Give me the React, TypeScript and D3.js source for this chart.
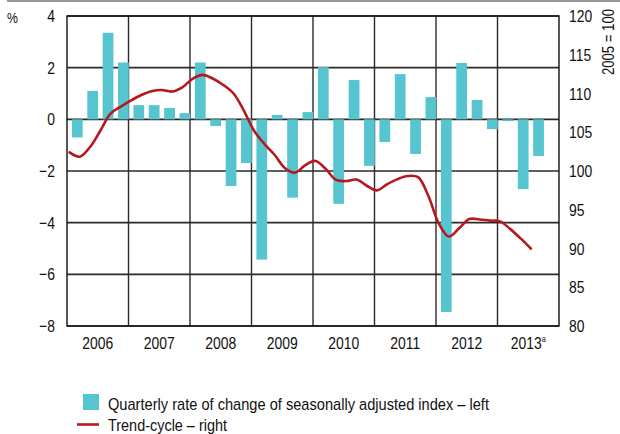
import React from 'react';
import * as d3 from 'd3';

const years = ['2006', '2007', '2008', '2009', '2010', '2011', '2012', '2013'];
const yearLabels = ['2006', '2007', '2008', '2009', '2010', '2011', '2012', '2013'];
const leftTicks = [4, 2, 0, -2, -4, -6, -8];
const rightTicks = [120, 115, 110, 105, 100, 95, 90, 85, 80];

// Quarterly rate of change of seasonally adjusted index (%), 2006 Q1 – 2013 Q3
const quarters = [
  '2006-Q1', '2006-Q2', '2006-Q3', '2006-Q4',
  '2007-Q1', '2007-Q2', '2007-Q3', '2007-Q4',
  '2008-Q1', '2008-Q2', '2008-Q3', '2008-Q4',
  '2009-Q1', '2009-Q2', '2009-Q3', '2009-Q4',
  '2010-Q1', '2010-Q2', '2010-Q3', '2010-Q4',
  '2011-Q1', '2011-Q2', '2011-Q3', '2011-Q4',
  '2012-Q1', '2012-Q2', '2012-Q3', '2012-Q4',
  '2013-Q1', '2013-Q2', '2013-Q3',
];
const quarterlyChange = [
  -0.7, 1.1, 3.35, 2.2,
  0.55, 0.55, 0.44, 0.24,
  2.2, -0.26, -2.58, -1.69,
  -5.43, 0.17, -3.03, 0.28,
  2.02, -3.27, 1.52, -1.8,
  -0.88, 1.75, -1.34, 0.86,
  -7.46, 2.18, 0.75, -0.38,
  -0.07, -2.7, -1.42,
];

// Trend-cycle (2005 = 100), every second month 2006-01 … 2013-07
const trendMonths = [
  '2006-01', '2006-03', '2006-05', '2006-07', '2006-09', '2006-11',
  '2007-01', '2007-03', '2007-05', '2007-07', '2007-09', '2007-11',
  '2008-01', '2008-03', '2008-05', '2008-07', '2008-09', '2008-11',
  '2009-01', '2009-03', '2009-05', '2009-07', '2009-09', '2009-11',
  '2010-01', '2010-03', '2010-05', '2010-07', '2010-09', '2010-11',
  '2011-01', '2011-03', '2011-05', '2011-07', '2011-09', '2011-11',
  '2012-01', '2012-03', '2012-05', '2012-07', '2012-09', '2012-11',
  '2013-01', '2013-03', '2013-05', '2013-07',
];
const trendCycle = [
  102.4, 101.85, 103.1, 105.2, 107.4, 108.3,
  109.1, 109.8, 110.3, 110.45, 110.25, 110.8,
  111.9, 112.4, 111.9, 111.1, 110.0, 107.8,
  105.2, 103.5, 102.1, 100.4, 99.8, 100.75,
  101.3, 100.25, 98.85, 98.7, 98.9, 98.1,
  97.5, 98.3, 98.95, 99.35, 99.2, 96.8,
  93.3, 91.55, 92.6, 93.8, 93.75, 93.6,
  93.5, 92.5, 91.3, 90.0,
];

const legendItems = [
  'Quarterly rate of change of seasonally adjusted index \u2013 left',
  'Trend-cycle \u2013 right',
];

const FONT = "'Liberation Sans', Arial, sans-serif";
const BAR = '#57c5cf';
const LINE = '#b5191f';
const GRID = '#2a2a2a';
const SX = 0.82;

function NText(props: { x: number; y: number; anchor?: string; size?: number; dy?: string; children: React.ReactNode; sx?: number }) {
  const { x, y, anchor = 'start', size = 17, dy, children, sx = SX } = props;
  return (
    <text transform={`translate(${x},${y}) scale(${sx},1)`} textAnchor={anchor} fontSize={size} dy={dy} fill="#111">
      {children}
    </text>
  );
}

export default function App() {
  const W = 620, H = 434;
  const left = 67, right = 559, top = 16, bottom = 326;

  const x = d3.scaleLinear().domain([2006, 2014]).range([left, right]);
  const yL = d3.scaleLinear().domain([-8, 4]).range([bottom, top]);
  const yR = d3.scaleLinear().domain([80, 120]).range([bottom, top]);
  const qw = x(2006.25) - x(2006);

  const qPos = (q: string) => {
    const [yy, qq] = q.split('-Q');
    return +yy + (+qq - 1) / 4;
  };
  const mPos = (m: string) => {
    const [yy, mm] = m.split('-');
    return +yy + (+mm - 1 + 0.5) / 12;
  };

  const line = d3.line<number>()
    .x((_, i) => x(mPos(trendMonths[i])))
    .y((d) => yR(d))
    .curve(d3.curveCatmullRom.alpha(0.5));

  const yearBounds = d3.range(2007, 2014);

  return (
    <svg width={W} height={H} style={{ position: 'absolute', left: 0, top: 0, background: '#fff' }}
      fontFamily={FONT}>
      <line x1={7} x2={620} y1={1} y2={1} stroke="#777" strokeWidth={1.5} />
      {leftTicks.map((t) => (
        <line key={'h' + t} x1={left} x2={right} y1={yL(t)} y2={yL(t)} stroke={GRID} strokeWidth={1.6} />
      ))}
      {yearBounds.map((yv) => (
        <line key={'v' + yv} x1={x(yv)} x2={x(yv)} y1={top} y2={bottom} stroke={GRID} strokeWidth={1.4} />
      ))}
      {quarterlyChange.map((v, i) => {
        const x0 = x(qPos(quarters[i])) + 0.32 * qw;
        const y0 = Math.min(yL(v), yL(0));
        const h = Math.abs(yL(v) - yL(0));
        return <rect key={'b' + i} x={x0} y={y0} width={0.7 * qw} height={h} fill={BAR} />;
      })}
      <rect x={left} y={top} width={right - left} height={bottom - top} fill="none" stroke="#111" strokeWidth={1.4} />
      <path d={line(trendCycle) || ''} fill="none" stroke={LINE} strokeWidth={2.6} strokeLinejoin="round" strokeLinecap="round" />
      {leftTicks.map((t) => (
        <NText key={'l' + t} x={55} y={yL(t)} dy="0.36em" anchor="end">
          {t < 0 ? '\u2212' + Math.abs(t) : String(t)}
        </NText>
      ))}
      {rightTicks.map((t) => (
        <NText key={'r' + t} x={569} y={yR(t)} dy="0.36em">
          {String(t)}
        </NText>
      ))}
      <NText x={7} y={23} size={15}>%</NText>
      <text transform="translate(614,9) rotate(-90) scale(0.82,1)" textAnchor="end" fontSize={16} fill="#111">2005 = 100</text>
      {years.map((yv, i) => (
        <NText key={'x' + yv} x={x(+yv + 0.5)} y={349} anchor="middle">
          {yearLabels[i]}
          {yv === '2013' ? <tspan fontSize={9} dy={-7}>a</tspan> : null}
        </NText>
      ))}
      <rect x={83} y={394} width={16} height={16} fill={BAR} />
      <text x={108} y={409.5} fontSize={17} fill="#111" textLength={381} lengthAdjust="spacingAndGlyphs">{legendItems[0]}</text>
      <line x1={77} x2={99} y1={424.5} y2={424.5} stroke={LINE} strokeWidth={2.6} />
      <text x={108} y={430.5} fontSize={17} fill="#111" textLength={119} lengthAdjust="spacingAndGlyphs">{legendItems[1]}</text>
    </svg>
  );
}
